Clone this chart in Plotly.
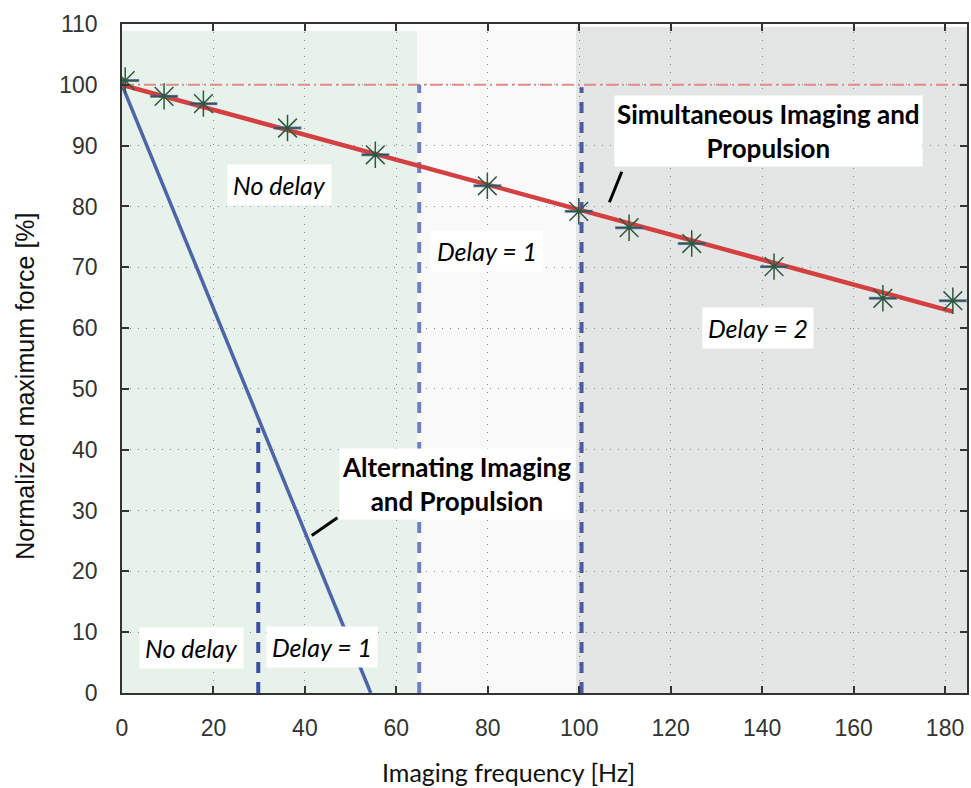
import plotly.graph_objects as go

# ---- data ----
freq_meas = [0.7, 9.2, 17.8, 36.2, 55.4, 79.9, 99.9, 110.9, 124.6, 142.6, 166.4, 181.7]
force_meas = [100.7, 98.1, 96.9, 92.9, 88.5, 83.4, 79.2, 76.5, 73.9, 70.1, 64.9, 64.5]

simul_x = [0, 181.7]
simul_y = [100, 62.7]
alt_x = [0, 54.4]
alt_y = [100, 0]

ref_x = [0, 184.8]
ref_y = [100, 100]

# vertical delay boundaries
bound_65_x = [65, 65]
bound_65_y = [0, 100]
bound_100_x = [100.5, 100.5]
bound_100_y = [0, 99.6]
bound_30_x = [29.8, 29.8]
bound_30_y = [0, 43.6]

# shaded regions
regions_x0 = [-0.5, 64.5, 99.3]
regions_x1 = [64.5, 99.3, 184.8]
regions_top = [108.9, 108.9, 109.5]
regions_col = ["#e6f2ea", "#f9f9f9", "#e4e6e6"]

callout1_x = [106.6, 109.3]
callout1_y = [80.7, 85.7]
callout2_x = [41.5, 47.1]
callout2_y = [25.9, 28.8]

x_ticks = [0, 20, 40, 60, 80, 100, 120, 140, 160, 180]
y_ticks = [0, 10, 20, 30, 40, 50, 60, 70, 80, 90, 100, 110]

italic_labels = ["No delay", "Delay = 1", "Delay = 2", "No delay", "Delay = 1"]
italic_x = [34.4, 79.8, 139.1, 15.3, 43.8]
italic_y = [83.5, 72.7, 60.0, 7.4, 7.5]

bold_labels = ["Simultaneous Imaging and<br>Propulsion", "Alternating Imaging<br>and Propulsion"]
bold_x = [141.3, 73.1]
bold_y = [92.4, 34.4]

ANN_FONT = "Lato"

fig = go.Figure()

for x0, x1, top, col in zip(regions_x0, regions_x1, regions_top, regions_col):
    fig.add_shape(type="rect", x0=x0, x1=x1, y0=0, y1=top, xref="x", yref="y",
                  fillcolor=col, line=dict(width=0), layer="below")

# reference 100% line
fig.add_trace(go.Scatter(x=ref_x, y=ref_y, mode="lines",
                         line=dict(color="#e08a8a", width=2, dash="12px,4px,2px,4px"),
                         hoverinfo="skip", showlegend=False))

# delay boundaries
fig.add_trace(go.Scatter(x=bound_65_x, y=bound_65_y, mode="lines",
                         line=dict(color="#6f7fbf", width=4, dash="11px,9px"), showlegend=False))
fig.add_trace(go.Scatter(x=bound_100_x, y=bound_100_y, mode="lines",
                         line=dict(color="#4a5aa4", width=4, dash="11px,9px"), showlegend=False))
fig.add_trace(go.Scatter(x=bound_30_x, y=bound_30_y, mode="lines",
                         line=dict(color="#3f4f9f", width=4, dash="11px,9px"), showlegend=False))

# alternating line
fig.add_trace(go.Scatter(x=alt_x, y=alt_y, mode="lines",
                         line=dict(color="#4d64a8", width=3.5), showlegend=False))
# simultaneous fit
fig.add_trace(go.Scatter(x=simul_x, y=simul_y, mode="lines",
                         line=dict(color="#d43f3f", width=4.5), showlegend=False))

# measured points
fig.add_trace(go.Scatter(x=freq_meas, y=force_meas, mode="markers",
                         marker=dict(symbol="line-ew-open", size=20, color="rgba(80,96,168,0.8)",
                                     line=dict(color="rgba(80,96,168,0.8)", width=3)),
                         showlegend=False))
fig.add_trace(go.Scatter(x=freq_meas, y=force_meas, mode="markers",
                         marker=dict(symbol="asterisk-open", size=22, color="#2d5a3f",
                                     line=dict(color="#2d5a3f", width=1.5)),
                         showlegend=False))

# callout lines
fig.add_trace(go.Scatter(x=callout1_x, y=callout1_y, mode="lines",
                         line=dict(color="black", width=3), showlegend=False))
fig.add_trace(go.Scatter(x=callout2_x, y=callout2_y, mode="lines",
                         line=dict(color="black", width=3), showlegend=False))

for t, x, y in zip(italic_labels, italic_x, italic_y):
    fig.add_annotation(x=x, y=y, xref="x", yref="y", text="<i>" + t + "</i>", showarrow=False,
                       font=dict(family=ANN_FONT, size=25, color="black"),
                       bgcolor="white", borderpad=5)

for t, x, y in zip(bold_labels, bold_x, bold_y):
    fig.add_annotation(x=x, y=y, xref="x", yref="y", text="<b>" + t + "</b>", showarrow=False,
                       font=dict(family=ANN_FONT, size=26, color="black"),
                       bgcolor="white", borderpad=2)

# axis titles
fig.add_annotation(x=0.457, y=-0.118, xref="paper", yref="paper", text="Imaging frequency [Hz]",
                   showarrow=False, xanchor="center", yanchor="middle", borderpad=0,
                   font=dict(family=ANN_FONT, size=25, color="#111"))
fig.add_annotation(x=-0.115, y=0.459, xref="paper", yref="paper", text="Normalized maximum force [%]",
                   showarrow=False, xanchor="center", yanchor="middle", textangle=-90,
                   font=dict(family="Liberation Sans", size=25, color="#111"))

axis_common = dict(showline=True, linecolor="#333", linewidth=1.5, mirror="ticks",
                   ticks="inside", ticklen=7, tickcolor="#333", tickwidth=1.5,
                   showgrid=True, gridcolor="#8a8a8a", gridwidth=1, griddash="1px,7px",
                   zeroline=False,
                   tickfont=dict(family="Liberation Sans", size=23, color="#333"))

fig.update_xaxes(range=[0, 184.8], tickvals=x_ticks, ticklabelstandoff=14, **axis_common)
fig.update_yaxes(range=[0, 110], tickvals=y_ticks, ticklabelstandoff=18, **axis_common)

fig.update_layout(width=971, height=788,
                  margin=dict(l=122, r=2, t=24, b=95),
                  plot_bgcolor="white", paper_bgcolor="white")

fig.write_html("out.html")
